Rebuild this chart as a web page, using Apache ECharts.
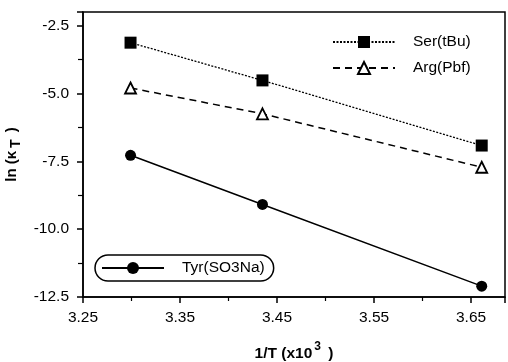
<!DOCTYPE html>
<html>
<head>
<meta charset="utf-8">
<script src="https://cdn.jsdelivr.net/npm/echarts@6/dist/echarts.min.js"></script>
<style>
  html, body { margin: 0; padding: 0; background: #fff; }
  #chart { width: 508px; height: 362px; }
</style>
</head>
<body>
<div id="chart"></div>
<script>
// 1/T (x10^3) for the three temperatures
const invT = [3.299, 3.435, 3.661];

const serTBu = [-3.13, -4.52, -6.92];
const argPbf = [-4.8, -5.75, -7.72];
const tyrSO3Na = [-7.28, -9.09, -12.1];

const yTicks = [-12.5, -10.0, -7.5, -5.0, -2.5];
const xTicks = [3.25, 3.35, 3.45, 3.55, 3.65];

const font = 'Liberation Sans, Arial, sans-serif';

const pairs = (xs, ys) => xs.map((x, i) => [x, ys[i]]);

const chart = echarts.init(document.getElementById('chart'), null, { renderer: 'canvas' });

const option = {
  backgroundColor: '#fff',
  animation: false,
  grid: {
    left: 83, right: 3, top: 12, bottom: 65,
    outerBoundsMode: 'none',
    containLabel: false,
    show: true,
    borderColor: '#000',
    borderWidth: 1.5,
    backgroundColor: 'transparent'
  },
  legend: [
    {
      data: ['Ser(tBu)', 'Arg(Pbf)'],
      orient: 'vertical',
      left: 327,
      top: 29,
      itemWidth: 62,
      itemHeight: 15,
      itemGap: 10,
      textStyle: { fontFamily: font, fontSize: 15.5, color: '#000', padding: [0, 0, 0, 13] }
    },
    {
      data: ['Tyr(SO3Na)'],
      left: 95,
      top: 255,
      padding: [5, 9, 5, 6],
      borderColor: '#000',
      borderWidth: 1.5,
      borderRadius: 13,
      itemWidth: 62,
      itemHeight: 15,
      textStyle: { fontFamily: font, fontSize: 15.5, color: '#000', padding: [0, 0, 0, 13] }
    }
  ],
  xAxis: {
    type: 'value',
    min: 3.25,
    max: 3.685,
    interval: 0.1,
    name: '{a|1/T (x10}{s|3}{a| )}',
    nameLocation: 'middle',
    nameGap: 44,
    nameTextStyle: {
      rich: {
        a: { fontFamily: font, fontSize: 15.5, fontWeight: 'bold', color: '#000' },
        s: { fontFamily: font, fontSize: 12, fontWeight: 'bold', color: '#000', padding: [0, 3, 14, 2] }
      }
    },
    axisLine: { show: true, lineStyle: { color: '#000', width: 1.5 } },
    axisTick: { show: true, length: 6, lineStyle: { color: '#000', width: 1.5 } },
    minorTick: { show: true, splitNumber: 2, length: 4, lineStyle: { color: '#000', width: 1.2 } },
    splitLine: { show: false },
    axisLabel: {
      showMaxLabel: false,
      margin: 13,
      fontFamily: font,
      fontSize: 15.5,
      color: '#000',
      formatter: v => xTicks.some(t => Math.abs(t - v) < 1e-6) ? v.toFixed(2) : ''
    }
  },
  yAxis: {
    type: 'value',
    min: -12.5,
    max: -2.0,
    interval: 2.5,
    name: '{a|ln (κ}{s|T}{a| )}',
    nameLocation: 'middle',
    nameGap: 58,
    nameRotate: 90,
    nameTextStyle: {
      rich: {
        a: { fontFamily: font, fontSize: 15, fontWeight: 'bold', color: '#000' },
        s: { fontFamily: font, fontSize: 14, fontWeight: 'bold', color: '#000', padding: [7, 3, 0, 3] }
      }
    },
    axisLine: { show: true, lineStyle: { color: '#000', width: 1.5 } },
    axisTick: { show: true, length: 6, lineStyle: { color: '#000', width: 1.5 } },
    minorTick: { show: true, splitNumber: 2, length: 5, lineStyle: { color: '#000', width: 1.2 } },
    splitLine: { show: false },
    axisLabel: {
      showMaxLabel: false,
      margin: 14,
      fontFamily: font,
      fontSize: 15.5,
      color: '#000',
      formatter: v => yTicks.some(t => Math.abs(t - v) < 1e-6) ? v.toFixed(1) : ''
    }
  },
  series: [
    {
      name: 'Ser(tBu)',
      type: 'line',
      data: pairs(invT, serTBu),
      symbol: 'rect',
      symbolSize: 12,
      itemStyle: { color: '#000' },
      lineStyle: { color: '#000', width: 1.3, type: [2, 1.5] }
    },
    {
      name: 'Arg(Pbf)',
      type: 'line',
      data: pairs(invT, argPbf),
      symbol: 'triangle',
      symbolSize: 11,
      itemStyle: { color: '#fff', borderColor: '#000', borderWidth: 1.8 },
      lineStyle: { color: '#000', width: 1.5, type: [7, 5] }
    },
    {
      name: 'Tyr(SO3Na)',
      type: 'line',
      data: pairs(invT, tyrSO3Na),
      symbol: 'circle',
      symbolSize: 11,
      itemStyle: { color: '#000' },
      lineStyle: { color: '#000', width: 1.5 }
    }
  ]
};

chart.setOption(option);
</script>
</body>
</html>
